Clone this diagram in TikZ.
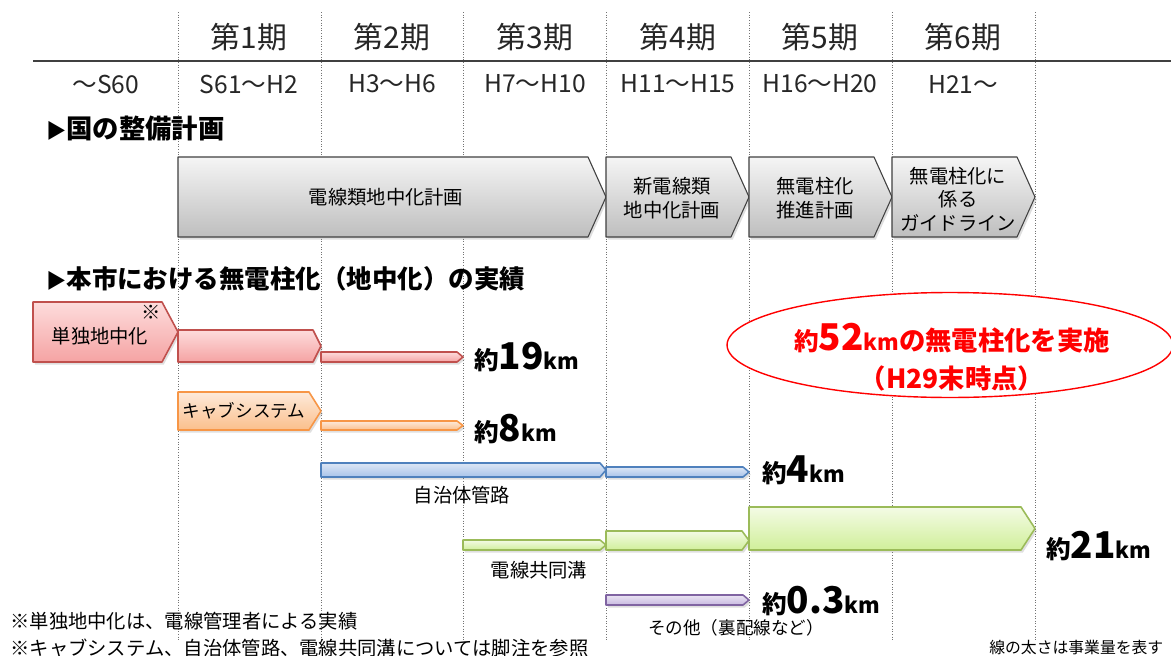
\documentclass[tikz,border=0pt]{standalone}
\usepackage{fontspec}
\setmainfont{Noto Sans CJK JP}
\usetikzlibrary{shapes.geometric,shadows}

\definecolor{planline}{HTML}{404040}
\definecolor{plantop}{HTML}{F5F5F5}
\definecolor{planbot}{HTML}{BEBEBE}
\definecolor{redline}{HTML}{C0504D}
\definecolor{redtop}{HTML}{FDDCDC}
\definecolor{redbot}{HTML}{F5A3A3}
\definecolor{orgline}{HTML}{F79646}
\definecolor{orgtop}{HTML}{FDEADA}
\definecolor{orgbot}{HTML}{FBBF8C}
\definecolor{blueline}{HTML}{4F81BD}
\definecolor{bluetop}{HTML}{DDE7F5}
\definecolor{bluebot}{HTML}{A8C3EA}
\definecolor{grnline}{HTML}{9BBB59}
\definecolor{grntop}{HTML}{F4FBE5}
\definecolor{grnbot}{HTML}{D0EF9A}
\definecolor{purline}{HTML}{8064A2}
\definecolor{purtop}{HTML}{EAE4F3}
\definecolor{purbot}{HTML}{C8B9E0}
\definecolor{ovalred}{HTML}{FF0000}

\newcommand\kmtext[1]{{\fontsize{14}{14}\selectfont 約}{\fontsize{21}{21}\selectfont #1}{\fontsize{12.5}{12.5}\selectfont km}}

\tikzset{
  gridline/.style={densely dotted, black!55, line width=0.5pt},
  headtext/.style={font=\fontsize{17}{20}\selectfont, text=black!85},
  periodtext/.style={font=\fontsize{14}{17}\selectfont, text=black!85},
  sectiontext/.style={anchor=west, inner sep=0pt, font=\bfseries\fontsize{15}{18}\selectfont},
  plantext/.style={align=center, font=\fontsize{11}{13.5}\selectfont},
  bartext/.style={font=\fontsize{11}{13}\selectfont},
  kmlabel/.style={anchor=west, inner sep=0pt, font=\bfseries},
  notetext/.style={anchor=west, inner sep=0pt, font=\fontsize{11}{13}\selectfont},
  barshadow/.style={drop shadow={shadow xshift=1pt, shadow yshift=-1.5pt, opacity=0.25}},
  planbar/.style={draw=planline, line width=0.6pt, top color=plantop, bottom color=planbot, barshadow},
  redbar/.style={draw=redline, line width=0.9pt, top color=redtop, bottom color=redbot, barshadow},
  orgbar/.style={draw=orgline, line width=0.9pt, top color=orgtop, bottom color=orgbot, barshadow},
  bluebar/.style={draw=blueline, line width=0.9pt, top color=bluetop, bottom color=bluebot, barshadow},
  grnbar/.style={draw=grnline, line width=0.9pt, top color=grntop, bottom color=grnbot, barshadow},
  purbar/.style={draw=purline, line width=0.9pt, top color=purtop, bottom color=purbot, barshadow},
  oval/.style={ellipse, draw=ovalred, fill=white, line width=0.8pt, minimum width=8.92cm, minimum height=2.1cm},
  ovaltext/.style={text=ovalred, font=\bfseries\fontsize{15}{18}\selectfont}
}

\begin{document}
\begin{tikzpicture}[x=0.02cm,y=-0.02cm,line join=round]
      \fill[white] (0,0) rectangle (1171,656);
      \useasboundingbox (0,0) rectangle (1171,656);

      % Add period grid
      \draw[gridline] (178,12) -- (178,640);
      \draw[gridline] (321,12) -- (321,640);
      \draw[gridline] (463,12) -- (463,640);
      \draw[gridline] (606,12) -- (606,640);
      \draw[gridline] (749,12) -- (749,640);
      \draw[gridline] (892,12) -- (892,640);
      \draw[gridline] (1035,12) -- (1035,640);
      \draw[planline, line width=0.8pt] (33,61) -- (1171,61);

      % Period headers
      \node[headtext] (ki1) at (249,37) {第1期};
      \node[headtext] (ki2) at (392,37) {第2期};
      \node[headtext] (ki3) at (535,37) {第3期};
      \node[headtext] (ki4) at (678,37) {第4期};
      \node[headtext] (ki5) at (820,37) {第5期};
      \node[headtext] (ki6) at (963,37) {第6期};
      \node[periodtext] (nen0) at (106,84) {～S60};
      \node[periodtext] (nen1) at (249,84) {S61～H2};
      \node[periodtext] (nen2) at (392,84) {H3～H6};
      \node[periodtext] (nen3) at (535,84) {H7～H10};
      \node[periodtext] (nen4) at (678,84) {H11～H15};
      \node[periodtext] (nen5) at (820,84) {H16～H20};
      \node[periodtext] (nen6) at (963,84) {H21～};

      % National plans
      \node[sectiontext] (kuni) at (46,129) {{\fontsize{11.5}{11.5}\selectfont ▶}国の整備計画};
      \path[planbar] (178,157) -- (588,157) -- (606,197) -- (588,237) -- (178,237) -- cycle;
      \path[planbar] (606,157) -- (731,157) -- (749,197) -- (731,237) -- (606,237) -- cycle;
      \path[planbar] (749,157) -- (874,157) -- (892,197) -- (874,237) -- (749,237) -- cycle;
      \path[planbar] (892,157) -- (1017,157) -- (1035,197) -- (1017,237) -- (892,237) -- cycle;
      \node[plantext] (plan1) at (386,197) {電線類地中化計画};
      \node[plantext] (plan2) at (672,198) {新電線類\\地中化計画};
      \node[plantext] (plan3) at (815,198) {無電柱化\\推進計画};
      \node[plantext] (plan4) at (958,199) {無電柱化に\\係る\\ガイドライン};

      % City results
      \node[sectiontext, font=\bfseries\fontsize{14.5}{18}\selectfont] (shi) at (46,279) {{\fontsize{11.5}{11.5}\selectfont ▶}本市における無電柱化（地中化）の実績};
      \path[redbar] (33,302) -- (162,302) -- (178,332) -- (162,362) -- (33,362) -- cycle;
      \path[redbar] (178,330) -- (313,330) -- (321,346) -- (313,362) -- (178,362) -- cycle;
      \path[redbar] (321,352) -- (457,352) -- (463,357) -- (457,362) -- (321,362) -- cycle;
      \path[orgbar] (178,392) -- (309,392) -- (321,411) -- (309,430) -- (178,430) -- cycle;
      \path[orgbar] (321,421) -- (457,421) -- (463,425.5) -- (457,430) -- (321,430) -- cycle;
      \path[bluebar] (321,463) -- (600,463) -- (606,470) -- (600,477) -- (321,477) -- cycle;
      \path[bluebar] (606,467) -- (743,467) -- (749,472) -- (743,477) -- (606,477) -- cycle;
      \path[grnbar] (463,540) -- (600,540) -- (606,545) -- (600,550) -- (463,550) -- cycle;
      \path[grnbar] (606,531) -- (742,531) -- (749,540.5) -- (742,550) -- (606,550) -- cycle;
      \path[grnbar] (749,507) -- (1021,507) -- (1035,528.5) -- (1021,550) -- (749,550) -- cycle;
      \path[purbar] (606,595) -- (743,595) -- (749,600) -- (743,605) -- (606,605) -- cycle;

      \node[bartext] (tandoku) at (100,336) {単独地中化};
      \node[bartext] (kome) at (151,312) {※};
      \node[bartext, font=\fontsize{10}{12}\selectfont] (cab) at (244,411) {キャブシステム};
      \node[bartext] (jichitai) at (462,495) {自治体管路};
      \node[bartext] (kyodo) at (539,570) {電線共同溝};
      \node[bartext, font=\fontsize{10}{12}\selectfont] (sonota) at (736,628) {その他（裏配線など）};

      \node[kmlabel] (km19) at (474,357) {\kmtext{19}};
      \node[kmlabel] (km8) at (474,429) {\kmtext{8}};
      \node[kmlabel] (km4) at (762,470) {\kmtext{4}};
      \node[kmlabel] (km21) at (1046,546) {\kmtext{21}};
      \node[kmlabel] (km03) at (762,601) {\kmtext{0.3}};

      % Total
      \node[oval] (total) at (950,345) {};
      \node[ovaltext] (total1) at (952,338) {\kmtext{52}の無電柱化を実施};
      \node[ovaltext] (total2) at (952,378) {（H29末時点）};

      % Notes
      \node[notetext] (note1) at (10,621) {※単独地中化は、電線管理者による実績};
      \node[notetext] (note2) at (10,648) {※キャブシステム、自治体管路、電線共同溝については脚注を参照};
      \node[notetext, font=\fontsize{9}{11}\selectfont] (note3) at (989,648) {線の太さは事業量を表す};
\end{tikzpicture}
\end{document}
